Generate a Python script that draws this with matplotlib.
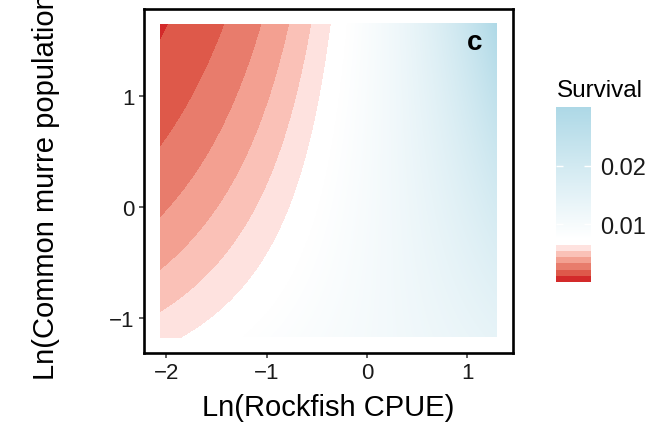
import numpy as np
import matplotlib
matplotlib.use("Agg")
import matplotlib.pyplot as plt
from matplotlib.colors import LinearSegmentedColormap, Normalize, ListedColormap
from matplotlib.cm import ScalarMappable

plt.rcParams['font.family'] = ['Liberation Sans', 'DejaVu Sans']

# Predictor ranges (natural log scale)
rockfish_range = [-2.057, 1.288]
murre_range = [-1.172, 1.649]

# Fitted surface: log(Survival) = b0 + b_rock*x + b_murre*y + b_int*x*y
b0 = -4.626
b_rock = 0.524
b_murre = -0.0453
b_int = 0.2346

# Low-survival bands (edges) and fills, darkest first
band_breaks = [0.0, 0.0015, 0.0025, 0.0035, 0.0045, 0.0055, 0.0065]
band_colors = ['#d32a2a', '#de594a', '#e87c6c', '#f3a091', '#fac1b7', '#fee2df']

# Continuous fill above the bands
gradient_limits = [0.0075, 0.030]
gradient_ticks = [0.01, 0.02]
gradient_colors = ['#ffffff', '#add8e6']

x_ticks = [-2, -1, 0, 1]
y_ticks = [-1, 0, 1]
x_title = 'Ln(Rockfish CPUE)'
y_title = 'Ln(Common murre population)'
legend_title = 'Survival'
panel_tag = 'c'

W, H = 661, 427
fig = plt.figure(figsize=(W / 100, H / 100), dpi=100)
fig.patch.set_facecolor('white')

# main panel
ax = fig.add_axes([144 / W, 1 - 354 / H, (513 - 144) / W, (354 - 9.5) / H])

x = np.linspace(rockfish_range[0], rockfish_range[1], 500)
y = np.linspace(murre_range[0], murre_range[1], 500)
X, Y = np.meshgrid(x, y)
S = np.exp(b0 + b_rock * X + b_murre * Y + b_int * X * Y)

cmap = LinearSegmentedColormap.from_list('survival', gradient_colors)
cmap.set_under('#ffffff')
norm = Normalize(vmin=gradient_limits[0], vmax=gradient_limits[1])

ax.imshow(S, origin='lower', cmap=cmap, norm=norm, aspect='auto',
          extent=[rockfish_range[0], rockfish_range[1], murre_range[0], murre_range[1]],
          interpolation='bilinear', zorder=1)
ax.contourf(X, Y, S, levels=band_breaks, colors=band_colors, zorder=2)

def expand(r, f=0.05):
    d = (r[1] - r[0]) * f
    return [r[0] - d, r[1] + d]

ax.set_xlim(expand(rockfish_range))
ax.set_ylim(expand(murre_range))
ax.set_xticks(x_ticks)
ax.set_yticks(y_ticks)
ax.tick_params(length=3.6, width=1.1, color='#333333', labelsize=16,
               labelcolor='#1a1a1a', pad=3)
for sp in ax.spines.values():
    sp.set_linewidth(1.9)
    sp.set_color('black')

ax.text(1.073, 1.425, panel_tag, ha='center', va='baseline',
        fontsize=20, fontweight='bold', color='black', zorder=5)

# axis titles
fig.text(328.5 / W, 1 - 416 / H, x_title, ha='center', va='baseline', fontsize=21)
fig.text(54 / W, 1 - 181.75 / H, y_title, rotation=90, rotation_mode='anchor',
         ha='center', va='baseline', fontsize=21)

# legend: gradient bar
fig.text(557 / W, 1 - 97 / H, legend_title, ha='left', va='baseline', fontsize=17.5)
cax = fig.add_axes([556 / W, 1 - 240 / H, 35 / W, 132.3 / H])
cbar = fig.colorbar(ScalarMappable(norm=norm, cmap=cmap), cax=cax)
cbar.outline.set_visible(False)
cbar.set_ticks(gradient_ticks)
cbar.set_ticklabels([f'{t:.2f}' for t in gradient_ticks])
cax.tick_params(axis='y', direction='in', length=5, width=1, color='white',
                left=True, right=True, labelleft=False, labelright=True,
                labelsize=17, labelcolor='#1a1a1a', pad=6.8)

# legend: low-survival band keys (lightest on top)
kax = fig.add_axes([556 / W, 1 - 283 / H, 35 / W, 37 / H])
key_idx = np.arange(len(band_colors))[::-1].reshape(-1, 1)
kax.imshow(key_idx, cmap=ListedColormap(band_colors), aspect='auto',
           interpolation='nearest', vmin=-0.5, vmax=len(band_colors) - 0.5)
kax.set_axis_off()

fig.savefig('out.png', dpi=100, facecolor='white')
